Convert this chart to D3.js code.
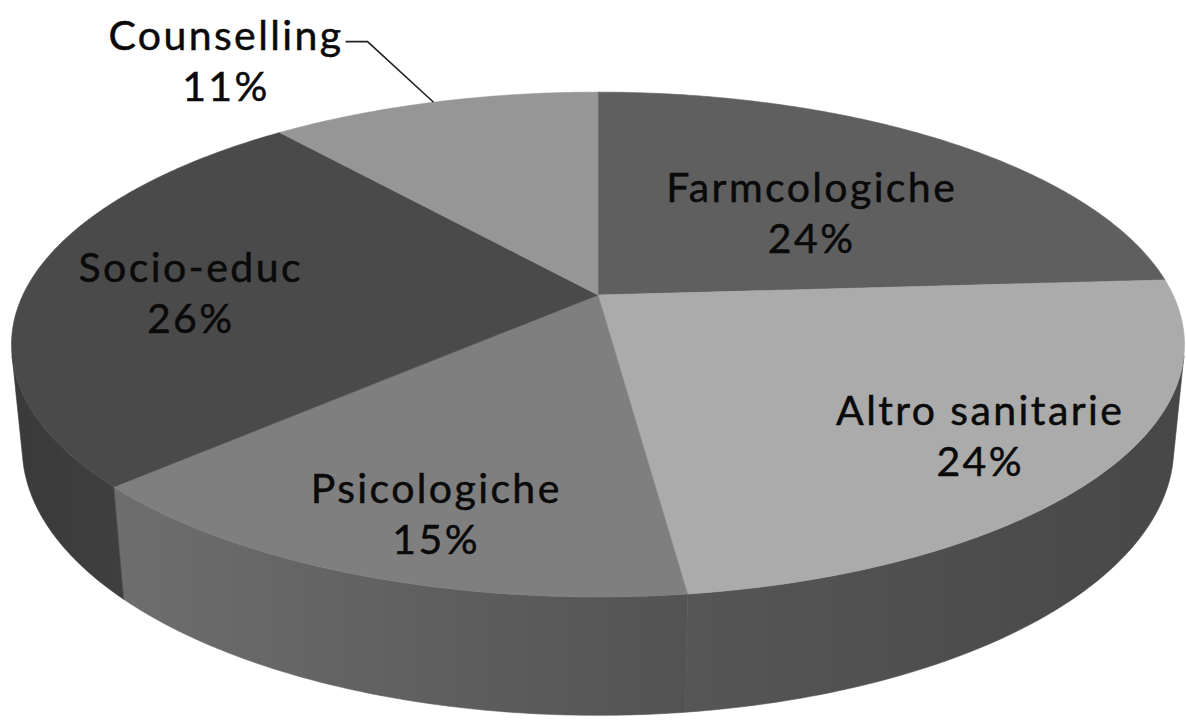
<!DOCTYPE html>
<html>
<head>
<meta charset="utf-8">
<script src="https://cdn.jsdelivr.net/npm/d3@7"></script>
<style>
  html, body { margin: 0; padding: 0; background: #ffffff; }
  svg { display: block; }
  text { font-family: Lato, "Open Sans", sans-serif; }
</style>
</head>
<body>
<svg id="chart" width="1186" height="721"></svg>
<script>
// ---- data ----
const categories = ["Farmcologiche", "Altro sanitarie", "Psicologiche", "Socio-educ", "Counselling"];
const values = [24, 24, 15, 26, 11];
const percentLabels = ["24%", "24%", "15%", "26%", "11%"];

// ---- styles / layout ----
const topColors = ["#5f5f5f", "#ababab", "#7f7f7f", "#4a4a4a", "#969696"];
const sideColors = [["#4a4a4a", "#4a4a4a"], ["#565656", "#474747"], ["#6e6e6e", "#535353"], ["#3a3a3a", "#3f3f3f"], ["#6a6a6a", "#6a6a6a"]];
const labelRadius = [0.54, 0.79, 0.80, 0.71, 1.44];
const labelAngleShift = [4.3, 1.3, -2.4, -2.6, -13.9]; // degrees
const outsideLabel = [false, false, false, false, true];

const W = 1186, H = 721;
const cx = 598, cy = 295;
const focal = 2657, dist = 4.62;
const sa = 0.422, ca = Math.sqrt(1 - sa * sa);
const depth = 0.197;

function project(theta, r, y) {
  const x = r * Math.sin(theta), z = -r * Math.cos(theta);
  const Y = y * ca - z * sa;
  const Zc = y * sa + z * ca;
  const s = focal / (dist - Zc);
  return [cx + x * s, cy - Y * s];
}

const svg = d3.select("#chart");
const defs = svg.append("defs");
const pie = d3.pie().sort(null).startAngle(0).endAngle(2 * Math.PI);
const arcs = pie(values);
const line = d3.line();

function arcPoints(a0, a1, r, y) {
  const n = Math.max(2, Math.ceil(Math.abs(a1 - a0) / 0.01));
  return d3.range(n + 1).map(i => project(a0 + (a1 - a0) * i / n, r, y));
}

const camY = dist * sa, camZ = dist * ca;
function sideVisible(t) {
  const px = Math.sin(t), pz = -Math.cos(t);
  const dx = 0 - px, dz = camZ - pz;
  return (dx * px + dz * pz) > 0;
}
const tStep = 0.0005;
let visLo = null, visHi = null;
for (let t = 0; t <= 2 * Math.PI; t += tStep) {
  if (sideVisible(t)) { if (visLo === null) visLo = t; visHi = t; }
}

const gSide = svg.append("g");
arcs.forEach((d, i) => {
  const a0 = Math.max(d.startAngle, visLo), a1 = Math.min(d.endAngle, visHi);
  if (a1 <= a0) return;
  const topPts = arcPoints(a0, a1, 1, 0);
  const botPts = arcPoints(a1, a0, 1, -depth);
  const pts = topPts.concat(botPts);
  const xs = pts.map(p => p[0]);
  const gid = "side" + i;
  const grad = defs.append("linearGradient").attr("id", gid)
    .attr("gradientUnits", "userSpaceOnUse")
    .attr("x1", d3.min(xs)).attr("x2", d3.max(xs)).attr("y1", 0).attr("y2", 0);
  grad.append("stop").attr("offset", 0).attr("stop-color", sideColors[i][0]);
  grad.append("stop").attr("offset", 1).attr("stop-color", sideColors[i][1]);
  gSide.append("path")
    .attr("d", line(pts) + "Z")
    .attr("fill", `url(#${gid})`)
    .attr("stroke", `url(#${gid})`)
    .attr("stroke-width", 0.6);
});

const gTop = svg.append("g");
arcs.forEach((d, i) => {
  const pts = [project(0, 0, 0)].concat(arcPoints(d.startAngle, d.endAngle, 1, 0));
  gTop.append("path")
    .attr("d", line(pts) + "Z")
    .attr("fill", topColors[i])
    .attr("stroke", topColors[i])
    .attr("stroke-width", 0.6);
});

// labels
const fontSize = 41, lineGap = 51;
const gLab = svg.append("g");
arcs.forEach((d, i) => {
  const mid = (d.startAngle + d.endAngle) / 2;
  const ang = mid + labelAngleShift[i] * Math.PI / 180;
  const [lx, ly] = project(ang, labelRadius[i], 0);
  const t = gLab.append("text")
    .attr("text-anchor", "middle")
    .attr("font-size", fontSize)
    .attr("letter-spacing", 2.4)
    .attr("fill", "#0a0a0a")
    .attr("stroke", "#0a0a0a")
    .attr("stroke-width", 0.5);
  const b1 = ly - lineGap / 2 + fontSize * 0.38;
  t.append("tspan").attr("x", lx).attr("y", b1).text(categories[i]);
  t.append("tspan").attr("x", lx).attr("y", b1 + lineGap).text(percentLabels[i]);
  if (outsideLabel[i]) {
    const w = t.select("tspan").node().getComputedTextLength();
    const rim = project(mid, 1, 0);
    const yLine = b1 - 8;
    const x0 = lx + w / 2 + 2, x1 = lx + w / 2 + 24;
    gLab.append("path")
      .attr("d", line([[x0, yLine], [x1, yLine], rim]))
      .attr("fill", "none")
      .attr("stroke", "#222222")
      .attr("stroke-width", 1.6);
  }
});
</script>
</body>
</html>
